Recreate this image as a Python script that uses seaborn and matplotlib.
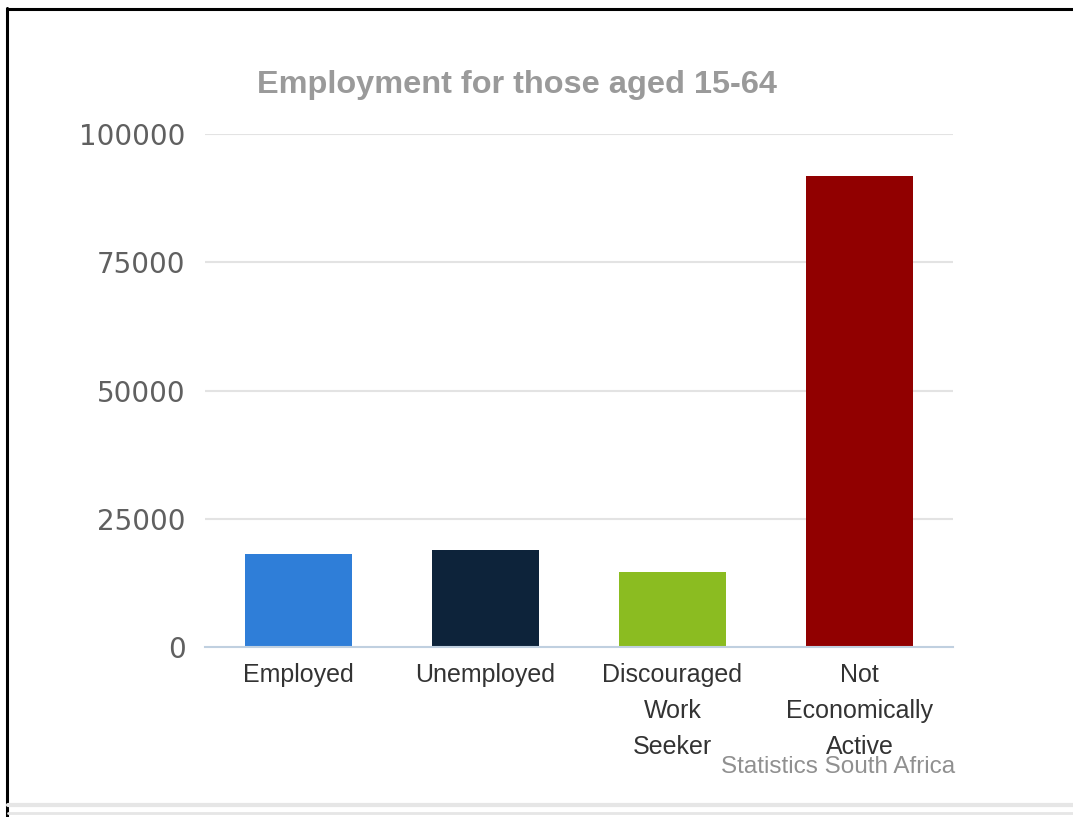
import matplotlib
matplotlib.use("Agg")
import matplotlib.pyplot as plt
from matplotlib.lines import Line2D
import seaborn as sns
import pandas as pd

categories = ["Employed", "Unemployed", "Discouraged\nWork\nSeeker", "Not\nEconomically\nActive"]
values = [18100, 19000, 14600, 91800]
colors = ["#2F7ED8", "#0D233A", "#8BBC21", "#910000"]
yticks = [0, 25000, 50000, 75000, 100000]
title = "Employment for those aged 15-64"
credit = "Statistics South Africa"

df = pd.DataFrame({"category": categories, "value": values})

sns.set_theme(style="white")
plt.rcParams["font.family"] = ["DejaVu Sans"]

W, H = 1073, 817
fig = plt.figure(figsize=(W / 100, H / 100), dpi=100)
fig.patch.set_facecolor("white")
ax = fig.add_axes([205 / W, 1 - 647 / H, (953 - 205) / W, (647 - 134) / H])

sns.barplot(data=df, x="category", y="value", hue="category", palette=colors,
            width=0.57, legend=False, ax=ax, saturation=1, linewidth=0)

ax.set_xlim(-0.5, len(categories) - 0.5)
ax.set_ylim(0, 100000)
ax.set_yticks(yticks)
ax.set_yticklabels([str(v) for v in yticks])
ax.set_xlabel("")
ax.set_ylabel("")

for side in ["top", "right", "left"]:
    ax.spines[side].set_visible(False)
ax.spines["bottom"].set_color("#C0D0E0")
ax.spines["bottom"].set_linewidth(1.5)

for y in yticks[1:]:
    ax.axhline(y, color="#E3E3E3", lw=1.5, zorder=0)

ax.tick_params(axis="y", length=0, pad=14, labelsize=20, labelcolor="#606060")
ax.tick_params(axis="x", which="major", length=0, pad=11.5, labelsize=18, labelcolor="#333333")
for lab in ax.get_xticklabels():
    lab.set_fontfamily(["Liberation Sans"])
    lab.set_linespacing(1.63)
ax.set_xticks([i - 0.5 for i in range(len(categories) + 1)], minor=True)
ax.tick_params(axis="x", which="minor", length=8, width=1.5, color="#C0D0E0", direction="out")

fig.text(517 / W, 1 - 85 / H, title, ha="center", va="center", fontsize=23.4,
         fontweight="bold", color="#9A9A9A", family=["Liberation Sans"])
fig.text(955 / W, 1 - 773 / H, credit, ha="right", va="baseline", fontsize=17.5,
         color="#909090", family=["Liberation Sans"])

# frame lines of the screenshot
fig.add_artist(Line2D([7 / W, 7 / W], [0, 1 - 8 / H], transform=fig.transFigure,
                      color="black", lw=2.2))
fig.add_artist(Line2D([7 / W, 1], [1 - 9 / H, 1 - 9 / H], transform=fig.transFigure,
                      color="black", lw=2.2))
fig.add_artist(Line2D([8 / W, 1], [1 - 805 / H, 1 - 805 / H], transform=fig.transFigure,
                      color="#E6E6E6", lw=3))
fig.add_artist(Line2D([8 / W, 1], [1 - 813 / H, 1 - 813 / H], transform=fig.transFigure,
                      color="#E6E6E6", lw=2))

fig.savefig("out.png", dpi=100, facecolor="white")
